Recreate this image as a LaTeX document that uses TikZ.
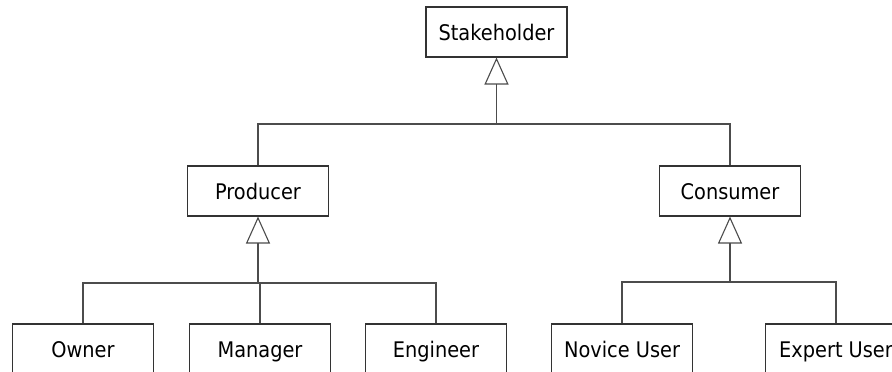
\documentclass[tikz,border=0pt]{standalone}
\usepackage{fontspec}
\setmainfont{DejaVu Sans}[FakeStretch=0.9]
\usetikzlibrary{arrows.meta}
\begin{document}
\begin{tikzpicture}[x=1pt,y=-1pt,
  cls/.style={draw=black!80, line width=1.1pt, fill=white, minimum width=141pt, minimum height=50pt, inner sep=0pt, text height=19pt, text depth=2pt, font=\fontsize{21.5}{25}\selectfont},
  wire/.style={draw=black!70, line width=1.1pt},
  gen/.style={wire, -{Triangle[open, length=27pt, width=24pt, line width=1.1pt]}}]
\useasboundingbox (0,0) rectangle (892,372);
\clip (0,0) rectangle (892,372);
\fill[white] (0,0) rectangle (892,372);
\node[cls] (stake) at (496.5,32) {Stakeholder};
\node[cls] (prod) at (258,191) {Producer};
\node[cls] (cons) at (730,191) {Consumer};
\node[cls] (owner) at (83,349) {Owner};
\node[cls] (mgr) at (260,349) {Manager};
\node[cls] (eng) at (436,349) {Engineer};
\node[cls] (nov) at (622,349) {Novice User};
\node[cls] (exp) at (836,349) {Expert User};
\coordinate (b0) at (496.5,124);
\coordinate (b1) at (258,283);
\coordinate (b2) at (730,282);
\draw[wire] (prod.north) |- (b0) -| (cons.north);
\draw[gen] (b0) -- (stake.south);
\draw[wire] (owner.north) |- (b1) -| (eng.north);
\draw[wire] (mgr.north |- b1) -- (mgr.north);
\draw[gen] (b1) -- (prod.south);
\draw[wire] (nov.north) |- (b2) -| (exp.north);
\draw[gen] (b2) -- (cons.south);
\end{tikzpicture}
\end{document}
